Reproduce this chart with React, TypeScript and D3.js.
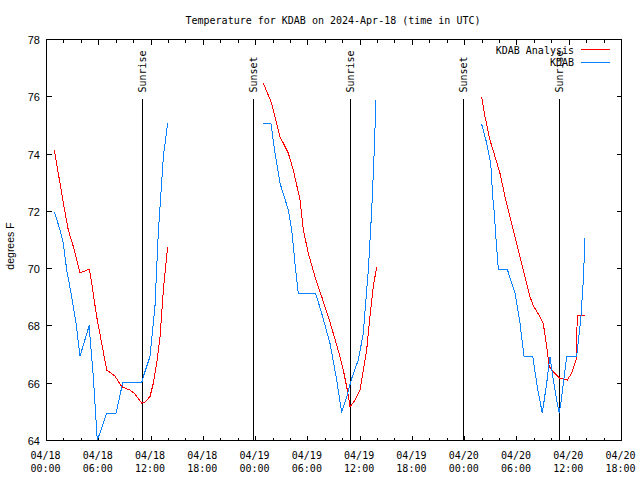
import React from 'react';
import * as d3 from 'd3';

type Pt = [number, number];

// hours since 04/18 00:00 UTC, temperature in F
const analysisDay1: Pt[] = [[0.90,74.14],[2.01,72.16],[2.50,71.35],[3.08,70.77],[3.85,69.86],[4.16,69.89],[4.91,69.98],[5.19,69.49],[5.76,68.32],[6.34,67.39],[6.91,66.46],[7.86,66.25],[8.63,65.88],[9.58,65.76],[10.08,65.65],[10.93,65.30],[11.31,65.35],[11.88,65.53],[12.26,66.0],[12.65,66.70],[13.03,67.62],[13.41,69.25],[13.91,70.77]];
const analysisDay2: Pt[] = [[24.89,76.47],[25.85,75.77],[26.80,74.61],[27.76,74.03],[28.33,73.44],[29.10,72.40],[29.48,71.35],[30.05,70.54],[30.82,69.72],[31.59,69.02],[32.35,68.32],[32.92,67.74],[33.69,66.93],[34.07,66.46],[34.53,65.76],[34.84,65.18],[35.41,65.41],[35.99,65.76],[36.36,66.46],[36.75,67.16],[37.13,68.32],[37.51,69.37],[37.90,70.07]];
const analysisDay3: Pt[] = [[49.95,76.00],[50.33,75.31],[50.90,74.49],[51.48,73.91],[52.05,73.33],[52.63,72.51],[53.20,71.81],[53.77,71.12],[54.35,70.42],[54.92,69.72],[55.50,69.02],[55.88,68.70],[56.65,68.32],[57.02,68.09],[57.41,67.28],[57.71,66.58],[58.17,66.40],[58.94,66.17],[59.78,66.11],[60.28,66.35],[60.78,66.81],[60.93,68.35],[61.82,68.35]];

const obsDay1: Pt[] = [[0.90,71.99],[1.55,71.35],[1.93,70.89],[2.32,69.95],[2.89,69.02],[3.39,68.09],[3.85,66.95],[4.91,68.02],[4.99,67.62],[5.37,66.23],[5.83,64.0],[6.91,64.95],[7.98,64.95],[8.75,66.02],[10.93,66.02],[11.11,66.23],[11.88,66.93],[12.45,68.67],[12.83,71.23],[13.41,73.91],[13.91,75.08]];
const obsDay2: Pt[] = [[24.89,75.05],[25.77,75.05],[26.23,74.03],[26.80,72.98],[27.76,72.05],[28.15,71.35],[28.52,70.19],[28.90,69.12],[30.90,69.12],[31.59,68.44],[32.54,67.39],[33.31,66.11],[33.88,64.98],[34.46,65.53],[35.03,66.17],[35.79,66.81],[36.36,67.74],[36.94,69.95],[37.33,72.05],[37.59,73.91],[37.82,75.89]];
const obsDay3: Pt[] = [[49.95,75.04],[50.53,74.38],[50.99,73.68],[51.22,72.51],[51.40,71.93],[51.59,71.06],[51.86,69.98],[52.89,69.98],[53.40,69.49],[53.78,69.14],[54.35,68.09],[54.81,66.95],[55.81,66.95],[56.33,65.88],[56.91,64.95],[57.41,66.0],[57.79,66.93],[58.17,66.11],[58.63,65.30],[58.86,64.95],[59.14,65.53],[59.71,66.95],[60.86,66.95],[61.32,68.21],[61.62,69.60],[61.81,71.06]];

const sunEvents: string[] = ['Sunrise', 'Sunset', 'Sunrise', 'Sunset', 'Sunrise'];
const sunHours: number[] = [10.99, 23.74, 34.84, 47.84, 58.86];

const xTickHours: number[] = [0, 6, 12, 18, 24, 30, 36, 42, 48, 54, 60, 66];
const xTickDates: string[] = ['04/18','04/18','04/18','04/18','04/19','04/19','04/19','04/19','04/20','04/20','04/20','04/20'];
const xTickTimes: string[] = ['00:00','06:00','12:00','18:00','00:00','06:00','12:00','18:00','00:00','06:00','12:00','18:00'];
const yTicks: number[] = [64, 66, 68, 70, 72, 74, 76, 78];

const RED = '#ff0000';
const BLUE = '#0a80ff';
const MONO = '"DejaVu Sans Mono", monospace';
const SANS = '"Liberation Sans", Arial, sans-serif';

export default function App() {
  const L = 46.5, R = 621.5, T = 39.5, B = 440.5;
  const x = d3.scaleLinear().domain([0, 66]).range([L, R]);
  const y = d3.scaleLinear().domain([64, 78]).range([B, T]);
  const line = d3.line<Pt>().x(d => x(d[0])).y(d => y(d[1]));
  const minorHours = d3.range(0, 67, 2);

  return (
    <svg width={640} height={480} style={{ position: 'absolute', left: 0, top: 0, background: '#fff' }}>
      <defs>
        <clipPath id="plot"><rect x={L} y={T} width={R - L} height={B - T + 1} /></clipPath>
      </defs>
      <rect x={0} y={0} width={640} height={480} fill="#fff" />
      <text x={333} y={24} textAnchor="middle" fontFamily={MONO} fontSize={10}>Temperature for KDAB on 2024-Apr-18 (time in UTC)</text>

      {/* x ticks */}
      {minorHours.map(h => {
        const len = h % 6 === 0 ? 5 : 3;
        const xx = Math.round(x(h) - 0.5) + 0.5;
        return (
          <g key={h} stroke="#000" shapeRendering="crispEdges">
            <line x1={xx} x2={xx} y1={B} y2={B - len} />
            <line x1={xx} x2={xx} y1={T} y2={T + len} />
          </g>
        );
      })}
      {yTicks.map(v => {
        const yy = Math.round(y(v) - 0.5) + 0.5;
        return (
          <g key={v}>
            <line x1={L} x2={L + 5} y1={yy} y2={yy} stroke="#000" shapeRendering="crispEdges" />
            <line x1={R} x2={R - 5} y1={yy} y2={yy} stroke="#000" shapeRendering="crispEdges" />
            <text x={40} y={yy + 4} textAnchor="end" fontFamily={SANS} fontSize={11}>{v}</text>
          </g>
        );
      })}
      {xTickHours.map((h, i) => (
        <g key={h} fontFamily={MONO} fontSize={10} textAnchor="middle">
          <text x={x(h) - 1} y={459}>{xTickDates[i]}</text>
          <text x={x(h) - 1} y={472}>{xTickTimes[i]}</text>
        </g>
      ))}
      <text transform="translate(14,246) rotate(-90)" textAnchor="middle" fontFamily={SANS} fontSize={10.5}>degrees F</text>

      {/* sunrise / sunset */}
      {sunHours.map((h, i) => {
        const xx = Math.round(x(h) - 0.5) + 0.5;
        return (
          <g key={i}>
            <line x1={xx} x2={xx} y1={y(75.92)} y2={B} stroke="#000" shapeRendering="crispEdges" />
            <text transform={`translate(${xx + 3.5},92.5) rotate(-90)`} fontFamily={MONO} fontSize={10}>{sunEvents[i]}</text>
          </g>
        );
      })}

      <g clipPath="url(#plot)" fill="none" shapeRendering="crispEdges">
        {[analysisDay1, analysisDay2, analysisDay3].map((seg, i) => (
          <path key={'a' + i} d={line(seg) || ''} stroke={RED} strokeWidth={1} />
        ))}
        {[obsDay1, obsDay2, obsDay3].map((seg, i) => (
          <path key={'o' + i} d={line(seg) || ''} stroke={BLUE} strokeWidth={1} />
        ))}
      </g>

      {/* legend */}
      <g fontFamily={MONO} fontSize={10} textAnchor="end">
        <text x={574} y={53.5}>KDAB Analysis</text>
        <line x1={581} x2={610} y1={49.5} y2={49.5} stroke={RED} shapeRendering="crispEdges" />
        <text x={574} y={66}>KDAB</text>
        <line x1={581} x2={610} y1={62.5} y2={62.5} stroke={BLUE} shapeRendering="crispEdges" />
      </g>

      {/* border */}
      <rect x={L} y={T} width={R - L} height={B - T} fill="none" stroke="#000" shapeRendering="crispEdges" />
    </svg>
  );
}
